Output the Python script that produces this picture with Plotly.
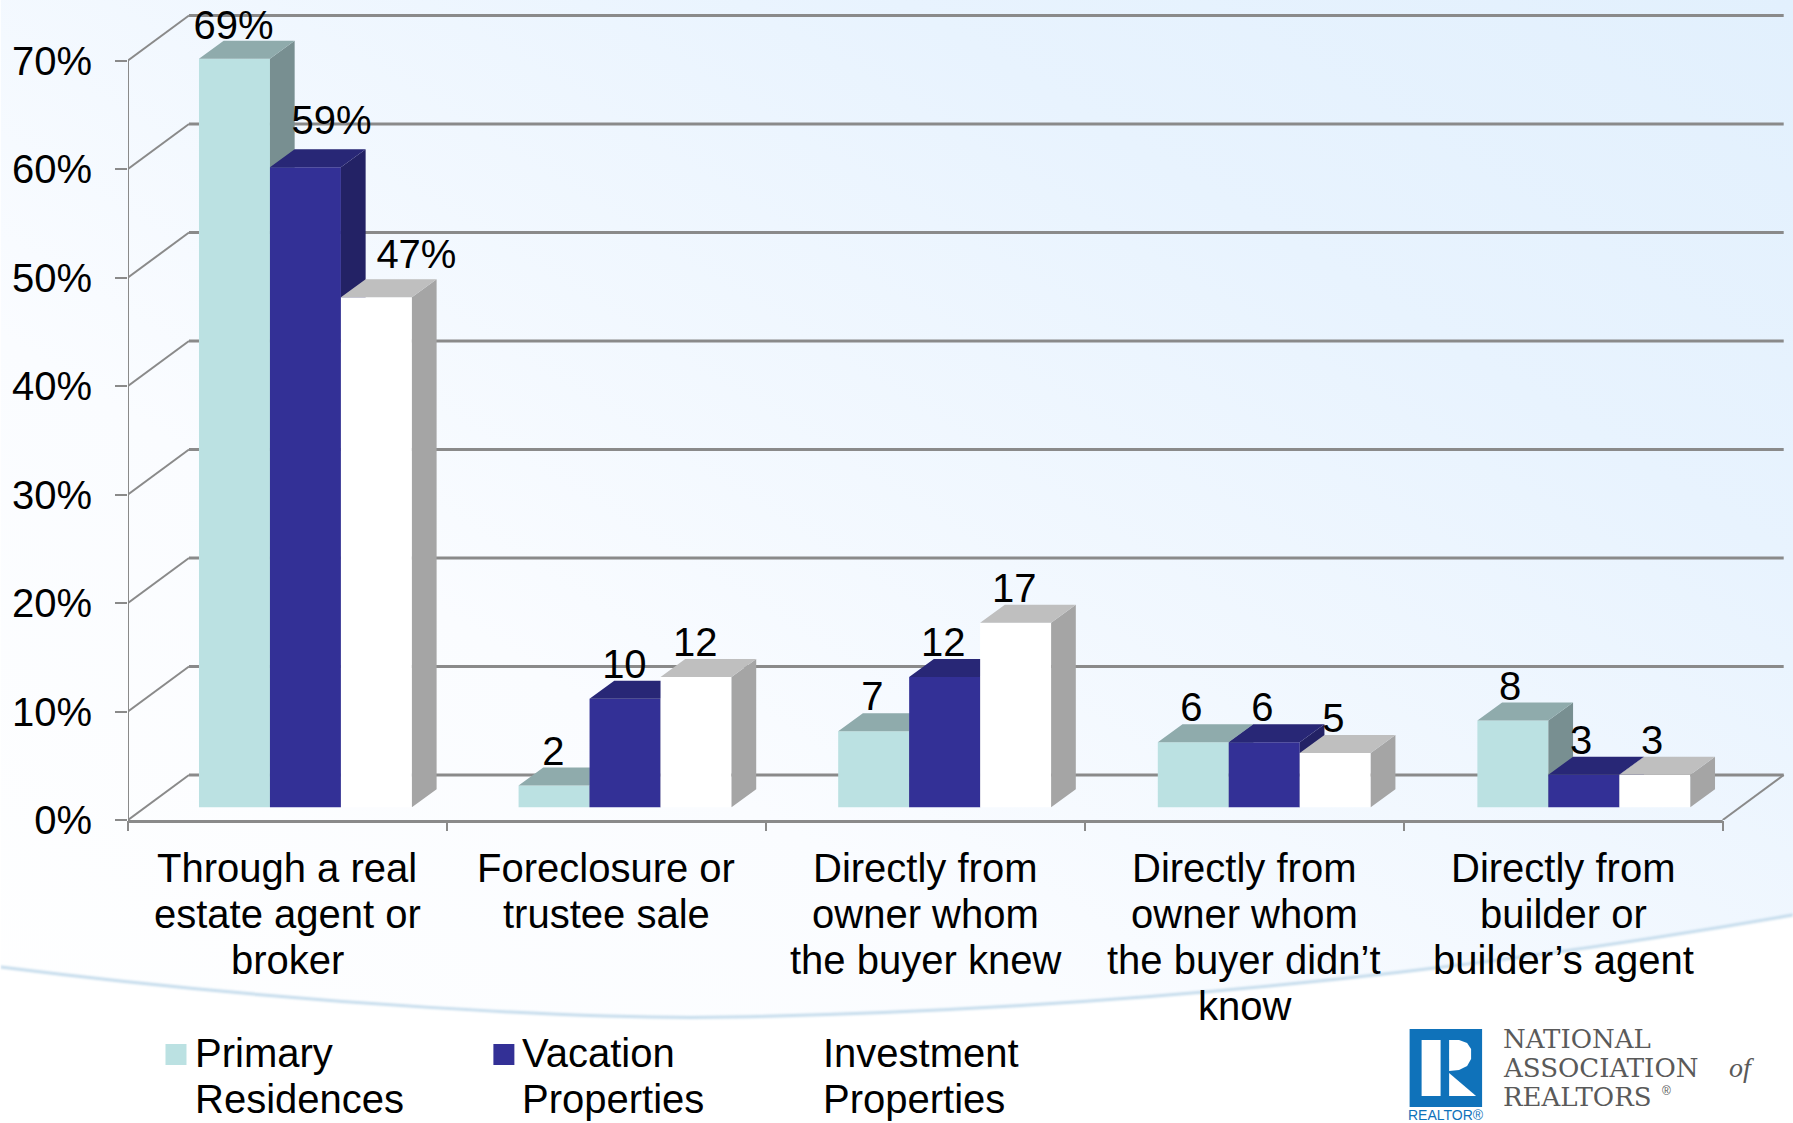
import base64
import plotly.graph_objects as go

# ---- chart data ----
categories = [
    "Through a real<br>estate agent or<br>broker",
    "Foreclosure or<br>trustee sale",
    "Directly from<br>owner whom<br>the buyer knew",
    "Directly from<br>owner whom<br>the buyer didn’t<br>know",
    "Directly from<br>builder or<br>builder’s agent",
]
primary_residences = [69, 2, 7, 6, 8]
vacation_properties = [59, 10, 12, 6, 3]
investment_properties = [47, 12, 17, 5, 3]
primary_labels = ["69%", "2", "7", "6", "8"]
vacation_labels = ["59%", "10", "12", "6", "3"]
investment_labels = ["47%", "12", "17", "5", "3"]
y_tick_values = [0, 10, 20, 30, 40, 50, 60, 70]
y_tick_labels = ["0%", "10%", "20%", "30%", "40%", "50%", "60%", "70%"]
legend_names = ["Primary<br>Residences", "Vacation<br>Properties", "Investment<br>Properties"]

# ---- page and plot geometry (pixels) ----
W, H = 1793, 1123
PLOT_L, PLOT_R, PLOT_T, PLOT_B = 127.5, 1786.0, 10.0, 820.0
PX_PER_CAT = 319.04
PX_PER_PCT = 10.85
x_max = (PLOT_R - PLOT_L) / PX_PER_CAT
y_max = (PLOT_B - PLOT_T) / PX_PER_PCT

def paper_x(px):
    return (px - PLOT_L) / (PLOT_R - PLOT_L)

def paper_y(py):
    return (PLOT_B - py) / (PLOT_B - PLOT_T)

# ---- oblique projection sizes, in axis units ----
WALL_DX, WALL_DY = 61 / PX_PER_CAT, 45 / PX_PER_PCT
BAR_DX, BAR_DY = 24.7 / PX_PER_CAT, 18 / PX_PER_PCT
BAR_LIFT = 12.7 / PX_PER_PCT
BAR_W = 71 / PX_PER_CAT
GROUP_PAD = 71.0 / PX_PER_CAT
GROUP_PITCH = 319.7 / PX_PER_CAT

FONT = "Liberation Sans, Arial, sans-serif"
TEXT_SIZE = 40
LINE_PX = 46
GRID = "#8a8a8a"

series = [
    dict(name="Primary Residences", values=primary_residences, labels=primary_labels,
         front="#BBE1E2", top="#8FABAC", side="#788F91"),
    dict(name="Vacation Properties", values=vacation_properties, labels=vacation_labels,
         front="#333096", top="#282776", side="#232265"),
    dict(name="Investment Properties", values=investment_properties, labels=investment_labels,
         front="#FFFFFF", top="#BFBFBF", side="#A5A5A5"),
]

def bar_center(i, s):
    return i * GROUP_PITCH + GROUP_PAD + (s + 0.5) * BAR_W

fig = go.Figure()

# Wall and floor lines of the box
wall_x, wall_y = [], []
for v in y_tick_values:
    wall_x += [0, WALL_DX, None]
    wall_y += [v, v + WALL_DY, None]
wall_x += [0, 0, None, 5, 5 + WALL_DX, None]
wall_y += [0, 70, None, 0, WALL_DY, None]
fig.add_trace(go.Scatter(x=wall_x, y=wall_y, mode="lines", cliponaxis=False, hoverinfo="skip",
                         line=dict(color=GRID, width=2), showlegend=False))

back_x, back_y = [], []
for v in y_tick_values:
    back_x += [WALL_DX, 5 + WALL_DX, None]
    back_y += [v + WALL_DY, v + WALL_DY, None]
fig.add_trace(go.Scatter(x=back_x, y=back_y, mode="lines", cliponaxis=False, hoverinfo="skip",
                         line=dict(color=GRID, width=3), showlegend=False))

# Each series sits on its own overlaid axes so later bars cover the sides of earlier ones
for s, info in enumerate(series):
    ax = str(s + 2)
    centers = [bar_center(i, s) for i in range(len(categories))]
    tops = [BAR_LIFT + v for v in info["values"]]

    side_x, side_y, top_x, top_y = [], [], [], []
    for c, t in zip(centers, tops):
        left, right = c - BAR_W / 2, c + BAR_W / 2
        side_x += [right, right + BAR_DX, right + BAR_DX, right, right, None]
        side_y += [BAR_LIFT, BAR_LIFT + BAR_DY, t + BAR_DY, t, BAR_LIFT, None]
        top_x += [left, left + BAR_DX, right + BAR_DX, right, left, None]
        top_y += [t, t + BAR_DY, t + BAR_DY, t, t, None]

    fig.add_trace(go.Bar(x=centers, y=info["values"], base=BAR_LIFT, width=BAR_W, name=info["name"],
                         marker=dict(color=info["front"], line=dict(width=0)),
                         xaxis="x" + ax, yaxis="y" + ax, showlegend=False))
    for fx, fy, color in ((side_x, side_y, info["side"]), (top_x, top_y, info["top"])):
        fig.add_trace(go.Scatter(x=fx, y=fy, mode="lines", fill="toself", fillcolor=color,
                                 line=dict(width=0, color=color), hoverinfo="skip",
                                 xaxis="x" + ax, yaxis="y" + ax, showlegend=False))

# Value labels go on the topmost axes, above every bar
label_gap = 31 / PX_PER_PCT
nudges = {(0, 0): (-1, -1.3), (1, 0): (26, 12), (2, 0): (40, 8)}
label_x, label_y, label_text = [], [], []
for s, info in enumerate(series):
    for i, (v, text) in enumerate(zip(info["values"], info["labels"])):
        nx, ny = nudges.get((s, i), (0, 0))
        label_x.append(i + GROUP_PAD + (s + 0.5) * BAR_W + nx / PX_PER_CAT)
        label_y.append(BAR_LIFT + v + label_gap + ny / PX_PER_PCT)
        label_text.append(text)
fig.add_trace(go.Scatter(x=label_x, y=label_y, text=label_text, mode="text", textposition="middle center",
                         textfont=dict(family=FONT, size=TEXT_SIZE, color="#000000"), cliponaxis=False,
                         hoverinfo="skip", xaxis="x4", yaxis="y4", showlegend=False))

annotations = []

# Category names, one annotation per line for tight leading
for i, cat in enumerate(categories):
    for n, line in enumerate(cat.split("<br>")):
        annotations.append(dict(x=i + 0.5, y=paper_y(868 + n * LINE_PX), xref="x", yref="paper", text=line,
                                showarrow=False, xanchor="center", yanchor="middle",
                                font=dict(family=FONT, size=TEXT_SIZE, color="#000000")))

# Front edge of the floor
shapes = [dict(type="line", xref="x", yref="paper", x0=0, x1=5, y0=paper_y(821.5), y1=paper_y(821.5),
               line=dict(color=GRID, width=3))]

# Legend swatches and names
swatch_left = [165, 493, 793]
text_left = [192.5, 520, 821]
for info, sx, tx, name in zip(series, swatch_left, text_left, legend_names):
    shapes.append(dict(type="rect", xref="paper", yref="paper", x0=paper_x(sx), x1=paper_x(sx + 21),
                       y0=paper_y(1065), y1=paper_y(1044), fillcolor=info["front"], line=dict(width=0)))
    for n, line in enumerate(name.split("<br>")):
        annotations.append(dict(x=paper_x(tx), y=paper_y(1053 + n * LINE_PX), xref="paper", yref="paper", text=line,
                                showarrow=False, xanchor="left", yanchor="middle",
                                font=dict(family=FONT, size=TEXT_SIZE, color="#000000")))

# Association logo: blue square with a white R
LOGO_BLUE = "#0F72BA"
def poly(points):
    return "M" + " L".join(f"{paper_x(a):.5f},{paper_y(b):.5f}" for a, b in points) + " Z"

shapes.append(dict(type="rect", xref="paper", yref="paper", x0=paper_x(1409.5), x1=paper_x(1482),
                   y0=paper_y(1107), y1=paper_y(1029), fillcolor=LOGO_BLUE, line=dict(width=0)))
shapes.append(dict(type="rect", xref="paper", yref="paper", x0=paper_x(1421.5), x1=paper_x(1440.5),
                   y0=paper_y(1096), y1=paper_y(1040), fillcolor="#FFFFFF", line=dict(width=0)))
shapes.append(dict(type="path", xref="paper", yref="paper", fillcolor="#FFFFFF", line=dict(width=0),
                   path=poly([(1449, 1040), (1459, 1040), (1467, 1043), (1471, 1049), (1471, 1059),
                              (1467, 1066), (1459, 1070), (1449, 1071)])))
shapes.append(dict(type="path", xref="paper", yref="paper", fillcolor="#FFFFFF", line=dict(width=0),
                   path=poly([(1449, 1073), (1476, 1096), (1449, 1096)])))

LOGO_GREY = "#5A5A5A"
SERIF = "DejaVu Serif, serif"
for word, line_y in (("NATIONAL", 1039), ("ASSOCIATION", 1068), ("REALTORS", 1097)):
    annotations.append(dict(x=paper_x(1501), y=paper_y(line_y), xref="paper", yref="paper", text=word,
                            showarrow=False, xanchor="left", yanchor="middle",
                            font=dict(family=SERIF, size=26, color=LOGO_GREY)))
annotations.append(dict(x=paper_x(1660), y=paper_y(1091), xref="paper", yref="paper", text="®",
                        showarrow=False, xanchor="left", yanchor="middle",
                        font=dict(family=FONT, size=12, color=LOGO_GREY)))
annotations.append(dict(x=paper_x(1727), y=paper_y(1067), xref="paper", yref="paper", text="of",
                        showarrow=False, xanchor="left", yanchor="middle",
                        font=dict(family="Liberation Serif, serif", size=28, color=LOGO_GREY, style="italic")))
annotations.append(dict(x=paper_x(1446), y=paper_y(1114.5), xref="paper", yref="paper", text="REALTOR®",
                        showarrow=False, xanchor="center", yanchor="middle",
                        font=dict(family=FONT, size=14, color=LOGO_BLUE)))

# Slide backdrop: soft blue wash above a sweeping curve, white beneath it
CURVE = "M0 967 C300 1005 600 1020 730 1017 C1100 1010 1450 975 1793 915"
backdrop = f"""<svg xmlns="http://www.w3.org/2000/svg" width="{W}" height="{H}" viewBox="0 0 {W} {H}">
<defs><linearGradient id="wash" x1="0" y1="1" x2="1" y2="0">
<stop offset="0" stop-color="#FFFFFF"/><stop offset="0.35" stop-color="#FAFCFF"/><stop offset="0.75" stop-color="#E8F3FE"/><stop offset="1" stop-color="#E2F0FD"/>
</linearGradient><filter id="soft"><feGaussianBlur stdDeviation="0.9"/></filter></defs>
<rect width="{W}" height="{H}" fill="url(#wash)"/>
<path d="{CURVE} L{W} {H} L0 {H} Z" fill="#FFFFFF"/>
<path d="{CURVE}" fill="none" stroke="#C5DCEC" stroke-width="3" filter="url(#soft)"/>
</svg>"""
backdrop_uri = "data:image/svg+xml;base64," + base64.b64encode(backdrop.encode()).decode()

fig.update_layout(
    width=W, height=H, autosize=False, barmode="overlay", showlegend=False,
    margin=dict(l=PLOT_L, r=W - PLOT_R, t=PLOT_T, b=H - PLOT_B, pad=0),
    paper_bgcolor="#FFFFFF", plot_bgcolor="rgba(0,0,0,0)",
    images=[dict(source=backdrop_uri, xref="paper", yref="paper", x=paper_x(0), y=paper_y(0),
                 sizex=W / (PLOT_R - PLOT_L), sizey=H / (PLOT_B - PLOT_T), sizing="stretch",
                 xanchor="left", yanchor="top", layer="below")],
    shapes=shapes, annotations=annotations,
    xaxis=dict(range=[0, x_max], tickmode="array", tickvals=list(range(len(categories) + 1)),
               showticklabels=False, ticks="outside", ticklen=10, tickwidth=2, tickcolor=GRID,
               showgrid=False, zeroline=False, showline=False),
    yaxis=dict(range=[0, y_max], tickmode="array", tickvals=y_tick_values, ticktext=y_tick_labels,
               ticks="outside", ticklen=12, tickwidth=2, tickcolor=GRID, ticklabelstandoff=15,
               tickfont=dict(family=FONT, size=TEXT_SIZE, color="#000000"),
               showgrid=False, zeroline=False, showline=False),
)
for n in (2, 3, 4):
    fig.update_layout({
        f"xaxis{n}": dict(range=[0, x_max], overlaying="x", visible=False),
        f"yaxis{n}": dict(range=[0, y_max], overlaying="y", visible=False),
    })

fig.write_html("out.html", config=dict(displayModeBar=False))
